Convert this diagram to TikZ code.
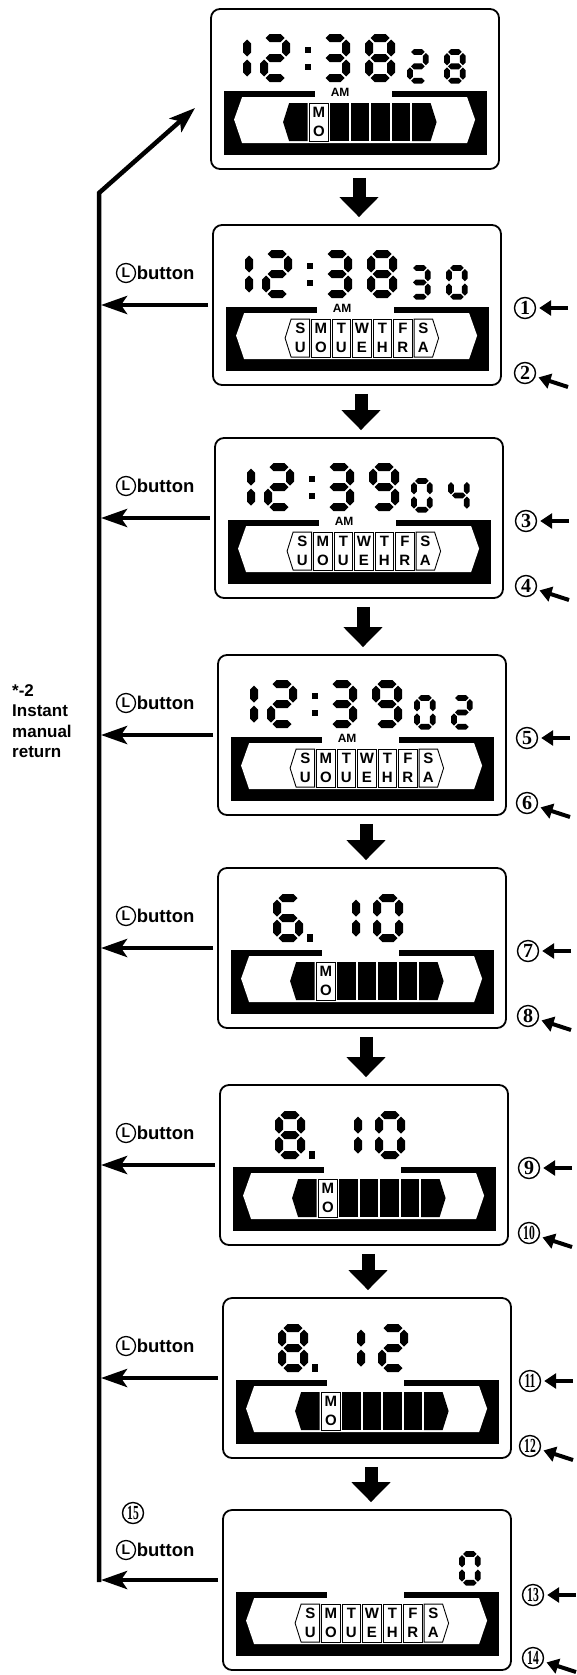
\documentclass[tikz,border=0pt]{standalone}
\usepackage{fontspec}
\setmainfont{Liberation Sans}
\newfontfamily\numfont{Liberation Serif}
\usetikzlibrary{arrows.meta,positioning}

% LCD segments (local px, y grows downward)
\newcommand\hseg[3]{\fill (#1,#3) -- (#1+4,#3-4) -- (#2-4,#3-4) -- (#2,#3) -- (#2-4,#3+4) -- (#1+4,#3+4) -- cycle;}
\newcommand\vseg[3]{\fill (#1,#2) -- (#1+4,#2+4) -- (#1+4,#3-4) -- (#1,#3) -- (#1-4,#3-4) -- (#1-4,#2+4) -- cycle;}
\newcommand\sega{\hseg{5.5}{24.5}{4}}
\newcommand\segb{\vseg{26}{5.5}{22.5}}
\newcommand\segc{\vseg{26}{25.5}{42.5}}
\newcommand\segd{\hseg{5.5}{24.5}{44}}
\newcommand\sege{\vseg{4}{25.5}{42.5}}
\newcommand\segf{\vseg{4}{5.5}{22.5}}
\newcommand\segg{\hseg{5.5}{24.5}{24}}
\def\dZero{a,b,c,d,e,f}
\def\dOne{b,c}
\def\dTwo{a,b,g,e,d}
\def\dThree{a,b,g,c,d}
\def\dFour{f,g,b,c}
\def\dSix{a,f,g,e,d,c}
\def\dEight{a,b,c,d,e,f,g}
\def\dNine{a,b,c,d,f,g}
% one digit: x, y, scale, segments
\newcommand\lcd[4]{\begin{scope}[shift={(#1,#2)},scale=#3]\foreach \s in #4 {\csname seg\s\endcsname}\end{scope}}

% black band with the window
\newcommand\lcdband{%
  \fill (14,83) rectangle (277,147);
  \fill[white] (24,111.5) -- (32,89) -- (257,89) -- (265,111.5) -- (257,135) -- (32,135) -- cycle;
  \fill[white] (105,82) rectangle (182,90);}

% seven day cells
\newcommand\daycells{%
  \foreach \dtop/\dbot [count=\i from 0] in {S/U,M/O,T/U,W/E,T/H,F/R,S/A} {
    \pgfmathsetmacro\cx{79+20.5*\i}
    \ifnum\i=0 \draw[daycell] (\cx,95) -- (\cx+18.5,95) -- (\cx+18.5,133) -- (\cx,133) -- (\cx-6,114) -- cycle;
    \else\ifnum\i=6 \draw[daycell] (\cx,95) -- (\cx+18.5,95) -- (\cx+24.5,114) -- (\cx+18.5,133) -- (\cx,133) -- cycle;
    \else \draw[daycell] (\cx,95) rectangle (\cx+18.5,133); \fi\fi
    \node[daytxt] (dt\i) at (\cx+9.25,104.5) {\dtop};
    \node[daytxt] (db\i) at (\cx+9.25,123.5) {\dbot};
  }}

% only MO shown
\newcommand\mocells{%
  \fill (73,114) -- (79,95) -- (97.5,95) -- (97.5,133) -- (79,133) -- cycle;
  \draw[daycell] (99.5,95) rectangle (118,133);
  \node[daytxt] (mt) at (108.75,104.5) {M};
  \node[daytxt] (mb) at (108.75,123.5) {O};
  \foreach \i in {2,...,5} {\fill ({79+20.5*\i},95) rectangle ({97.5+20.5*\i},133);}
  \fill (202,95) -- (220.5,95) -- (226.5,114) -- (220.5,133) -- (202,133) -- cycle;}

% time: minute digit, seconds tens, seconds units
\newcommand\clockface[3]{%
  \lcd{11}{26}{1}{\dOne}
  \lcd{50}{26}{1}{\dTwo}
  \fill (94.5,39) rectangle (100.5,45);
  \fill (94.5,56) rectangle (100.5,62);
  \lcd{110}{26}{1}{\dThree}
  \lcd{155}{26}{1}{#1}
  \lcd{197}{41}{0.72}{#2}
  \lcd{234}{41}{0.72}{#3}
  \lcdband
  \node[amtxt] (am) at (130,84.5) {AM};}

% date: month, date units
\newcommand\dateface[2]{%
  \lcd{56}{27}{1}{#1}
  \fill (90,67) rectangle (96,75);
  \lcd{113}{27}{1}{\dOne}
  \lcd{156}{27}{1}{#2}
  \lcdband
  \mocells}

\begin{document}
\begin{tikzpicture}[x=1pt,y=-1pt,
  lcdpanel/.style={draw,line width=1.8pt,rounded corners=9pt,minimum width=288pt,minimum height=160pt,inner sep=0pt},
  daycell/.style={draw,line width=0.9pt,fill=white},
  daytxt/.style={inner sep=0pt,font=\bfseries\fontsize{15}{15}\selectfont},
  amtxt/.style={inner sep=0pt,font=\bfseries\fontsize{12}{12}\selectfont},
  nextarr/.style={line width=13pt,shorten <=8pt,shorten >=7pt,-{Triangle[length=20pt,width=38pt]}},
  backarr/.style={line width=4.5pt,-{Stealth[length=26pt,width=18pt,inset=6pt]}},
  toline/.style={backarr,shorten >=2pt},
  numarr/.style={line width=4pt,shorten >=3pt,-{Triangle[length=12pt,width=15pt]}},
  cnum/.style={draw,circle,line width=1.4pt,inner sep=0pt,minimum size=21pt,font=\numfont\bfseries\fontsize{20}{20}\selectfont},
  lcirc/.style={draw,circle,line width=1.3pt,inner sep=0pt,minimum size=19pt,font=\bfseries\fontsize{14}{14}\selectfont},
  btn/.style={inner sep=0pt,font=\bfseries\fontsize{18.5}{18.5}\selectfont},
  notetxt/.style={inner sep=0pt,align=left,font=\bfseries\fontsize{17}{20.5}\selectfont}]
\useasboundingbox (0,0) rectangle (577,1675);

%Panel 1
\node[lcdpanel] (p1) at (355,89) {};
\begin{scope}[shift={(p1.north west)}] \clockface{\dEight}{\dTwo}{\dEight} \mocells \end{scope}
%Panel 2
\node[lcdpanel] (p2) at (357,305) {};
\begin{scope}[shift={(p2.north west)}] \clockface{\dEight}{\dThree}{\dZero} \daycells \end{scope}
%Panel 3
\node[lcdpanel] (p3) at (359,518) {};
\begin{scope}[shift={(p3.north west)}] \clockface{\dNine}{\dZero}{\dFour} \daycells \end{scope}
%Panel 4
\node[lcdpanel] (p4) at (362,735) {};
\begin{scope}[shift={(p4.north west)}] \clockface{\dNine}{\dZero}{\dTwo} \daycells \end{scope}
%Panel 5
\node[lcdpanel] (p5) at (362,948) {};
\begin{scope}[shift={(p5.north west)}] \dateface{\dSix}{\dZero} \end{scope}
%Panel 6
\node[lcdpanel] (p6) at (364,1165) {};
\begin{scope}[shift={(p6.north west)}] \dateface{\dEight}{\dZero} \end{scope}
%Panel 7
\node[lcdpanel] (p7) at (367,1378) {};
\begin{scope}[shift={(p7.north west)}] \dateface{\dEight}{\dTwo} \end{scope}
%Panel 8
\node[lcdpanel] (p8) at (367,1590) {};
\begin{scope}[shift={(p8.north west)}] \lcd{237}{42}{0.72}{\dZero} \lcdband \daycells \end{scope}

%Mui ten xuong
\foreach \a/\b in {p1/p2,p2/p3,p3/p4,p4/p5,p5/p6,p6/p7,p7/p8}
  \draw[nextarr] ([xshift=4pt]\a.south) -- ([xshift=4pt]\a.south |- \b.north);

%Instant manual return
\coordinate (rtop) at (99,193);
\coordinate (rtip) at (195,108);
\coordinate (b8) at ([yshift=10pt]p8.west);
\coordinate (rbot) at (99,1582);
\draw[backarr] (rbot) -- (rtop) -- (rtip);
\foreach \p in {p2,p3,p4,p5,p6,p7}
  \draw[toline] ([xshift=-4pt]\p.west) -- (\p.west -| rtop);
\draw[toline] ([xshift=-4pt]b8) -- (b8 -| rtop);
\node[notetxt,anchor=north west] (note) at (12,684) {*-2\\Instant\\manual\\return};

%L button
\foreach \k/\y in {2/273,3/486,4/703,5/916,6/1133,7/1346,8/1550} {
  \node[lcirc] (l\k) at (126,\y) {L};
  \node[btn,right=0.5pt of l\k] (t\k) {button};
}
\node[cnum] (n15) at (133,1513) {\scalebox{0.58}[1]{15}};

%So thu tu
\foreach \k/\x/\y in {1/525/308,2/525/373,3/526/521,4/526/586,5/527/738,6/527/803,7/528/951,8/528/1016,
                      9/529/1168,10/529/1233,11/530/1381,12/530/1446,13/533/1595,14/533/1658} {
  \node[cnum] (n\k) at (\x,\y) {\ifnum\k>9 \scalebox{0.58}[1]{\k}\else\k\fi};
  \ifodd\k \coordinate (m\k) at (\x+43,\y); \else \coordinate (m\k) at (\x+43,\y+14); \fi
  \draw[numarr] (m\k) -- (n\k);
}
\end{tikzpicture}
\end{document}
